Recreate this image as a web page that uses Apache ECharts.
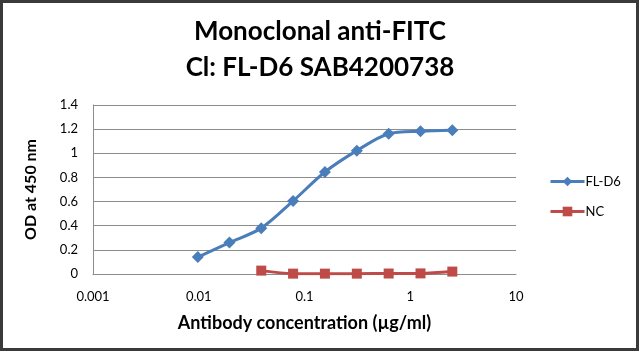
<!DOCTYPE html>
<html>
<head>
<meta charset="utf-8">
<script src="https://cdn.jsdelivr.net/npm/echarts@6/dist/echarts.min.js"></script>
<style>
  html, body { margin: 0; padding: 0; background: #fff; }
  #chart { width: 640px; height: 353px; }
</style>
</head>
<body>
<div id="chart"></div>
<script>
// two-fold dilution series, ug/ml
const concFL = [0.0098, 0.0195, 0.039, 0.078, 0.156, 0.3125, 0.625, 1.25, 2.5];
const odFL = [0.14, 0.26, 0.38, 0.605, 0.845, 1.022, 1.162, 1.182, 1.19];
const concNC = [0.039, 0.078, 0.156, 0.3125, 0.625, 1.25, 2.5];
const odNC = [0.028, 0.003, 0.003, 0.003, 0.004, 0.005, 0.02];
const xTicks = ['0.001', '0.01', '0.1', '1', '10'];
const seriesNames = ['FL-D6', 'NC'];

const font = 'Lato, "Liberation Sans", sans-serif';
const chart = echarts.init(document.getElementById('chart'));

chart.setOption({
    animation: false,
    textStyle: { fontFamily: font },
    title: {
        text: 'Monoclonal anti-FITC\nCl: FL-D6 SAB4200738',
        left: 'center',
        top: 9,
        textStyle: { fontFamily: font, fontSize: 26, fontWeight: 'bold', color: '#000', lineHeight: 36 }
    },
    legend: {
        orient: 'vertical',
        left: 544,
        top: 170,
        itemWidth: 34,
        itemHeight: 12,
        itemGap: 17,
        lineStyle: { width: 3 },
        textStyle: { fontFamily: font, fontSize: 13, color: '#000', padding: [0, 0, 0, -4] },
        data: seriesNames
    },
    grid: { left: 93, right: 124, top: 105, bottom: 79 },
    xAxis: {
        type: 'log',
        logBase: 10,
        min: 0.001,
        max: 10,
        name: 'Antibody concentration (\u00b5g/ml)',
        nameLocation: 'middle',
        nameGap: 40,
        nameTextStyle: { fontFamily: font, fontSize: 18, fontWeight: 'bold', color: '#000' },
        axisLine: { lineStyle: { color: '#8c8c8c', width: 1 } },
        axisTick: { show: false },
        splitLine: { show: false },
        minorTick: { show: false },
        axisLabel: {
            margin: 16,
            fontSize: 13,
            color: '#000',
            formatter: (v, i) => xTicks[i]
        }
    },
    yAxis: {
        type: 'value',
        min: 0,
        max: 1.4,
        interval: 0.2,
        name: 'OD at 450 nm',
        nameLocation: 'middle',
        nameGap: 54,
        nameTextStyle: { fontFamily: font, fontSize: 16, fontWeight: 'bold', color: '#000' },
        axisLine: { show: true, lineStyle: { color: '#8c8c8c', width: 1 } },
        axisTick: { show: false },
        splitLine: { lineStyle: { color: '#8c8c8c', width: 1 } },
        axisLabel: {
            margin: 15,
            fontSize: 13,
            color: '#000',
            formatter: v => String(Math.round(v * 10) / 10)
        }
    },
    series: [
        {
            name: seriesNames[0],
            type: 'line',
            smooth: 0.3,
            data: concFL.map((c, i) => [c, odFL[i]]),
            symbol: 'diamond',
            symbolSize: 12,
            lineStyle: { color: '#4a7ebb', width: 3 },
            itemStyle: { color: '#4a7ebb' }
        },
        {
            name: seriesNames[1],
            type: 'line',
            smooth: 0.3,
            data: concNC.map((c, i) => [c, odNC[i]]),
            symbol: 'rect',
            symbolSize: 10,
            lineStyle: { color: '#be4b48', width: 3 },
            itemStyle: { color: '#be4b48' }
        }
    ],
    graphic: [
        {
            type: 'rect',
            shape: { x: 1.5, y: 1.5, width: 636, height: 348 },
            style: { fill: 'none', stroke: '#3a3a3a', lineWidth: 3 },
            silent: true
        }
    ]
});
</script>
</body>
</html>
